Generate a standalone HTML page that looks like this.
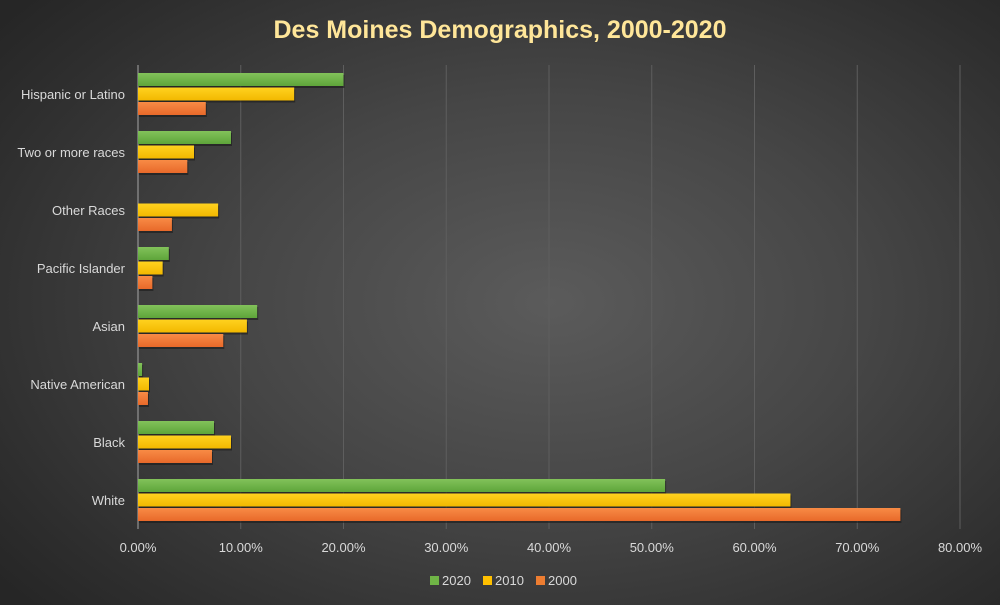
<!DOCTYPE html>
<html><head><meta charset="utf-8"><style>
html,body{margin:0;padding:0;}
body{width:1000px;height:605px;overflow:hidden;font-family:"Liberation Sans",sans-serif;}
#wrap{width:1000px;height:605px;background:radial-gradient(ellipse 70% 75% at 55% 50%,#5b5b5b 0%,#464646 45%,#2e2e2e 85%,#262626 100%);}
</style></head><body>
<div id="wrap">
<svg id="chart" width="1000" height="605">
<defs>
<linearGradient id="g2020" x1="0" y1="0" x2="0" y2="1"><stop offset="0" stop-color="#82c25a"/><stop offset="1" stop-color="#5ea53a"/></linearGradient>
<linearGradient id="g2010" x1="0" y1="0" x2="0" y2="1"><stop offset="0" stop-color="#ffd21f"/><stop offset="1" stop-color="#f2b800"/></linearGradient>
<linearGradient id="g2000" x1="0" y1="0" x2="0" y2="1"><stop offset="0" stop-color="#f88b45"/><stop offset="1" stop-color="#e8692a"/></linearGradient>
</defs>
<text x="500" y="38" text-anchor="middle" font-size="25" font-weight="bold" fill="#ffe699">Des Moines Demographics, 2000-2020</text>
<g id="grid"></g><g id="bars"></g><g id="labels"></g>
<g>
<rect x="430" y="576" width="9" height="9" fill="#6fb446"/>
<text x="442" y="585" font-size="13" fill="#d9d9d9">2020</text>
<rect x="483" y="576" width="9" height="9" fill="#ffc000"/>
<text x="495" y="585" font-size="13" fill="#d9d9d9">2010</text>
<rect x="536" y="576" width="9" height="9" fill="#ed7d31"/>
<text x="548" y="585" font-size="13" fill="#d9d9d9">2000</text>
</g>
</svg>
</div>
<script>
const categories = ["Hispanic or Latino","Two or more races","Other Races","Pacific Islander","Asian","Native American","Black","White"];
const values2020 = [20.0,9.05,0,3.0,11.6,0.4,7.4,51.3];
const values2010 = [15.2,5.45,7.8,2.4,10.6,1.07,9.05,63.5];
const values2000 = [6.6,4.8,3.3,1.4,8.3,0.97,7.2,74.2];
const tickValues = [0,10,20,30,40,50,60,70,80];
const tickLabels = ["0.00%","10.00%","20.00%","30.00%","40.00%","50.00%","60.00%","70.00%","80.00%"];
const NS="http://www.w3.org/2000/svg";
const x0=138, pxPer=102.75, plotTop=65, band=58;
const xs=v=>x0+v*pxPer/10;
const yc=i=>plotTop+band*i+band/2;
function mk(t,a,p){const e=document.createElementNS(NS,t);for(const k in a)e.setAttribute(k,a[k]);p.appendChild(e);return e;}
const grid=document.getElementById('grid'),bars=document.getElementById('bars'),labels=document.getElementById('labels');
tickValues.forEach((v,i)=>{
  const l=mk('line',{x1:xs(v),x2:xs(v),y1:plotTop,y2:plotTop+band*8,stroke:i==0?'#a6a6a6':'#5e5e5e','stroke-width':1},grid);
  
  
  const t=mk('text',{x:xs(v),y:552,'text-anchor':'middle','font-size':13,fill:'#d9d9d9'},labels);
  t.textContent=tickLabels[i];
  
  
});
const series=[[values2020,'url(#g2020)','2020'],[values2010,'url(#g2010)','2010'],[values2000,'url(#g2000)','2000']];
const bh=13, gap=1.5;
categories.forEach((c,i)=>{
  const t=mk('text',{x:125,y:yc(i)+5,'text-anchor':'end','font-size':13,fill:'#d9d9d9'},labels);
  t.textContent=c;
  
  
  series.forEach((s,j)=>{
    const y=yc(i)-1.5*bh-gap+j*(bh+gap);
    const w=xs(s[0][i])-x0;
    if(w<=0)return;
    mk('rect',{x:x0+1,y:y+2,width:w,height:bh,fill:'#1a1a1a',opacity:0.6},bars);
    const r=mk('rect',{x:x0,y:y,width:w,height:bh,fill:s[1]},bars);
    
    
  });
});
</script>
</body></html>
